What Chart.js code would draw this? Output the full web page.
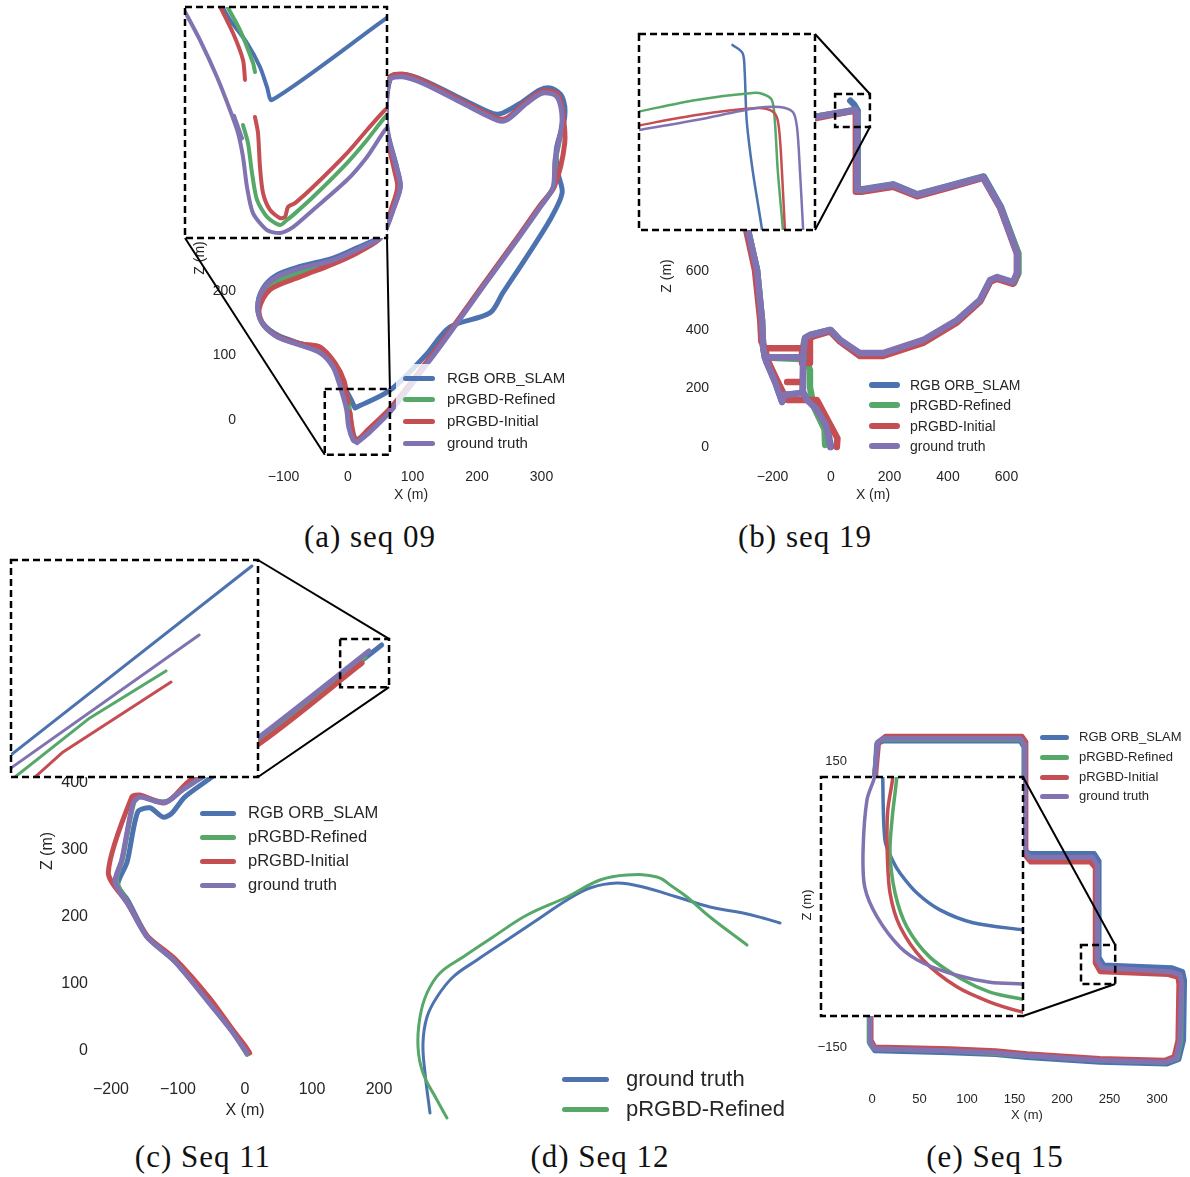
<!DOCTYPE html>
<html><head><meta charset="utf-8">
<script src="https://cdn.jsdelivr.net/npm/chart.js@4.4.1/dist/chart.umd.min.js"></script>
<style>
html,body{margin:0;padding:0;background:#fff;}
body{width:1190px;height:1177px;overflow:hidden;position:relative;font-family:'Liberation Sans',Arial,sans-serif;}
canvas{position:absolute;}
.cap{position:absolute;width:300px;text-align:center;font-family:'Liberation Serif','Times New Roman',serif;font-size:31px;letter-spacing:1px;line-height:36px;color:#111;}
.leg{position:absolute;color:#262626;white-space:nowrap;font-family:'Liberation Sans',Arial,sans-serif;}
</style></head><body>
<script>
// ---------------- DATA ----------------
const seriesLabels = ['RGB ORB_SLAM','pRGBD-Refined','pRGBD-Initial','ground truth'];
const seq12Labels = ['ground truth','pRGBD-Refined'];
const captions = ['(a) seq 09','(b) seq 19','(c) Seq 11','(d) Seq 12','(e) Seq 15'];

// seq 09 tick labels
const a09_xticks = [-100,0,100,200,300];
const a09_yticks = [0,100,200];
// seq 09 main trajectories [X, Z]
const a09_orb = [[10.9,18.6],[65,46],[120,100],[158,144],[220,166],[240,197],[277,253],[313,310],[332,352],[325,385],[323,420],[336,470],[332,501],[316,514],[298,512],[270,493],[240,476],[225,475],[178,497],[116,527],[85,536],[65,531],[60,456],[76,390],[81,362],[70,327],[60,300],[50,284],[14,267],[-23,251],[-74,238],[-110,225],[-132,204],[-140,175],[-132,150],[-108,131],[-72,118],[-41,107],[-21,84],[-8,55],[4,33],[10.9,18.6]];
const a09_refined = [[14,-31],[30,-19],[67,18],[127,95],[158,137],[209,208],[262,281],[298,332],[319,362],[322,404],[333,466],[325,503],[302,509],[277,493],[246,467],[231,467],[178,493],[116,524],[85,534],[65,529],[59,455],[75,389],[79,361],[68,326],[59,299],[49,281],[14,262],[-23,245],[-74,228],[-114,213],[-135,190],[-139,170],[-131,147],[-106,128],[-73,117],[-43,109],[-21,85],[-8,56],[0,30],[4,0],[8,-25],[14,-31]];
const a09_initial = [[3,12],[6,-10],[10,-27],[15,-31],[30,-16],[67,20],[127,97],[158,138],[209,209],[262,282],[298,333],[320,362],[336,429],[333,476],[325,505],[302,510],[277,494],[246,468],[231,468],[178,494],[116,526],[85,536],[65,531],[58,456],[72,388],[77,361],[67,326],[58,299],[48,280],[14,259],[-23,242],[-74,222],[-121,202],[-138,171],[-130,146],[-104,127],[-72,118],[-43,113],[-20,88],[-6,60],[0,26]];
const a09_gt = [[14,-35],[30,-22],[67,15],[127,93],[158,135],[209,206],[262,279],[298,330],[318,361],[321,403],[332,465],[324,501],[302,507],[277,491],[246,465],[231,465],[178,491],[116,522],[85,532],[65,527],[60,454],[76,388],[81,361],[70,326],[60,299],[50,282],[14,264],[-23,248],[-74,235],[-110,222],[-132,202],[-140,175],[-133,150],[-110,129],[-74,116],[-43,104],[-23,82],[-12,52],[-2,16],[1,-10],[8,-31],[14,-35]];
// seq 09 zoomed inset
const a09in_orb = [[-18.5,50],[-13.5,42.3],[-5,32.1],[1.5,21.5],[5,12.7],[7.5,6.9],[63.5,42.3],[68,45.2]];
const a09in_refined = [[-16,50],[-8.5,37.8],[-2,23.3],[-1,19.3],null,[-7,-4.1],[-4.5,-12.1],[-2.5,-25.3],[0,-37.2],[5,-44.7],[11.5,-48.3],[15,-46],[18,-43.9],[28,-35.9],[45,-20.9],[55,-10.7],[64,-0.6],[68,2.5]];
const a09in_initial = [[-19.5,50],[-12,36.5],[-7,24.6],[-6,15.8],null,[-1,-0.6],[0.5,-7.6],[1.5,-22.7],[3,-34.1],[6.5,-41.6],[11.5,-45.2],[14,-44.7],[15.5,-40.3],[19,-38.6],[28,-31.5],[45,-16.5],[55,-6.3],[64,2.5],[68,5]];
const a09in_gt = [[-37,47.6],[-28.5,33.4],[-20,17.1],[-13.5,2.5],[-9.5,-7.6],[-7,-18.2],[-5,-31.5],[-2,-43],[5,-50.5],[11.5,-51.8],[18,-49.2],[28,-41.6],[45,-28.4],[55,-18.2],[64,-6.3],[68,-3],null,[-11.5,0],[-9.5,-5],[-7.5,-10]];

// seq 19
const b19_xticks = [-200,0,200,400,600];
const b19_yticks = [0,200,400,600];
const b19_orb = [[0,0],[-15,75],[-48,130],[-80,161],[-97,190],[-94,304],[-87,373],[-70,383],[-1,400],[33,364],[99,318],[178,318],[317,362],[433,430],[511,500],[546,568],[570,578],[624,561],[640,592],[640,663],[581,821],[522,925],[397,891],[294,864],[212,898],[109,881],[91,881],[91,1142],[84,1150],[-55,1128],[-150,1110],[-250,1060],[-280,950],[-284,742],[-253,605],[-236,434],[-232,342],[-226,308],[-96,306],[-226,306],[-219,287],[-190,220],[-167,154],[-160,178],[-96,185],null,[91,1150],[78,1172],[66,1184]];
const b19_refined = [[-20,7],[-22,60],[-60,140],[-72,205],[-72,263],[-85,300],[-226,306],[-232,342],[-236,434],[-253,605],[-284,742],[-280,950],[-250,1060],[-150,1110],[-55,1128],[82,1152],[89,1142],[89,879],[109,879],[212,896],[294,862],[397,889],[520,923],[578,821],[640,663],[640,595],[626,561],[568,578],[544,568],[509,500],[431,431],[315,363],[178,318],[99,318],[31,363],[-3,398],[-72,381],[-89,371],[-96,340]];
const b19_initial = [[20,0],[22,30],[-48,161],[-150,161],[-160,178],[-190,240],[-218,300],[-225,338],[-99,338],[-99,287],[-72,287],[-72,373],[-55,380],[-3,395],[31,360],[99,311],[178,311],[315,356],[431,426],[509,497],[544,565],[568,575],[622,558],[636,590],[636,660],[578,818],[520,920],[397,885],[294,857],[212,890],[109,873],[85,873],[85,1140],[78,1150],[-55,1124],[-150,1105],[-250,1055],[-285,950],[-290,742],[-260,605],[-242,434],[-238,360],[-225,338],null,[-150,222],[-96,222]];
const b19_gt = [[-3,0],[-17,75],[-50,130],[-82,161],[-99,190],[-96,304],[-89,373],[-72,383],[-3,400],[31,366],[99,321],[178,321],[315,366],[431,434],[509,503],[544,571],[568,581],[622,564],[636,595],[636,663],[578,821],[520,923],[397,889],[294,862],[212,896],[109,879],[89,879],[89,1142],[82,1152],[-55,1128],[-150,1110],[-250,1060],[-280,950],[-284,742],[-253,605],[-236,434],[-232,342],[-226,308],[-96,306],[-226,306],[-219,287],[-190,220],[-167,154],[-160,178],[-96,185]];
const b19in_orb = [[77.2,1200.7],[84,1196],[85.4,1186.2],[86.8,1157.4],[90.8,1128.6],[97,1095.2],[97.5,1090]];
const b19in_refined = [[12,1162],[52.8,1169],[90.8,1173],[97.6,1172.4],[103.8,1169],[105.8,1157.4],[107.8,1128.6],[111.2,1095.2],[111.6,1090]];
const b19in_initial = [[12,1154],[52.8,1160.3],[93.6,1164.3],[102.4,1163.2],[107.2,1159.1],[109.2,1147.6],[110.6,1128.6],[112.6,1095.2],[113,1090]];
const b19in_gt = [[12,1151.3],[52.8,1157.4],[93.6,1164.3],[109.2,1164.9],[118,1162],[120.8,1153.4],[122.8,1128.6],[124.9,1095.2],[125.2,1090]];

// seq 11
const c11_xticks = [-200,-100,0,100,200];
const c11_yticks = [0,100,200,300,400];
const c11_orb = [[3,0],[-20,32],[-55,76],[-104,133],[-145,170],[-175,225],[-190,248],[-176,282],[-160,357],[-142,363],[-122,349],[-109,355],[-90,379],[-52,407],[19,461],[204,606]];
const c11_refined = [[3,-5],[-20,31],[-56,76],[-106,136],[-146,170],[-172,216],[-192,254],[-183,286],[-166,371],[-156,380],[-130,373],[-115,373],[-92,391],[-65,408],[19,464],[179,588]];
const c11_initial = [[7,-3],[0,8],[-20,34],[-52,78],[-104,137],[-146,172],[-175,220],[-204,266],[-169,379],[-157,382],[-122,370],[-107,379],[-82,404],[19,457],[175,579]];
const c11_gt = [[3,-3],[-20,30],[-57,76],[-107,136],[-146,170],[-172,215],[-194,252],[-184,285],[-167,370],[-157,379],[-131,372],[-116,372],[-93,390],[-67,407],[19,467],[185,597]];
const c11in_orb = [[138,546.8],[213.2,613]];
const c11in_refined = [[140,540.5],[143.2,543],[165.3,562.6],[187.8,578.2]];
const c11in_initial = [[147,540],[149.1,543],[157.4,551.3],[189.3,574.5]];
const c11in_gt = [[138,542.8],[197.6,590.1]];

// seq 12
const d12_gt = [[0,0],[-5,40],[-7,70],[-3,96],[7,116],[23,136],[47,153],[77,173],[107,193],[137,213],[160,225],[187,230],[213,226],[247,216],[280,206],[313,200],[333,195],[350,190]];
const d12_refined = [[17,-5],[7,13],[-7,40],[-12,66],[-10,96],[-3,120],[10,140],[33,156],[63,176],[97,198],[137,216],[170,233],[197,238],[227,236],[243,226],[257,216],[280,196],[317,168]];

// seq 15
const e15_xticks = [0,50,100,150,200,250,300];
const e15_yticks = [-150,150];
const e15_orb = [[3,100],[3,137],[5,168],[12,171],[156,171],[160,165],[160,57],[166,53],[234,53],[239,45],[239,-56],[244,-64],[316,-67],[327,-71],[329,-80],[328,-143],[323,-163],[310,-168],[240,-166],[163,-161],[130,-158],[82,-156],[3,-154],[-2,-147],[-2,-110]];
const e15_refined = [[3,100],[3,137],[6,169],[12,173],[156,173],[161,166],[161,52],[166,47],[232,47],[237,40],[237,-60],[242,-69],[314,-72],[324,-75],[326,-83],[325,-143],[321,-162],[309,-166],[240,-164],[163,-159],[130,-157],[82,-154],[3,-152],[-3,-145],[-3,-110]];
const e15_initial = [[4,100],[4,137],[7,170],[14,176],[158,176],[162,170],[162,50],[167,44],[230,44],[235,38],[235,-62],[240,-71],[312,-74],[322,-77],[323,-84],[322,-143],[318,-160],[308,-164],[240,-162],[163,-157],[130,-154],[82,-152],[3,-150],[-1,-143],[-1,-110]];
const e15_gt = [[3,100],[3,137],[6,170],[12,174],[156,174],[161,167],[161,55],[166,49],[232,49],[237,41],[237,-59],[242,-67],[314,-71],[324,-74],[326,-82],[324,-143],[320,-162],[309,-166],[240,-164],[163,-159],[130,-156],[82,-154],[3,-152],[-2,-145],[-2,-110]];
const e15in_orb = [[231,-40],[231,-43],[231.4,-53.8],[232.7,-57.2],[234.1,-59.5],[237.1,-62.9],[241.2,-65.8],[247.1,-68],[255.8,-69.2],[258,-69.4]];
const e15in_refined = [[233.5,-40],[233.5,-43],[232.7,-49.9],[232.3,-56],[233.2,-62.9],[235.3,-68.7],[239.4,-73.9],[245.3,-77.8],[250.1,-79.9],[255.8,-81.1],[258,-81.4]];
const e15in_initial = [[232.8,-40],[232.8,-43],[231.9,-48.7],[231.8,-55.5],[232.3,-62.9],[234.1,-68.7],[238.2,-74.4],[244.2,-79],[250.1,-81.6],[255.8,-83.3],[258,-83.6]];
const e15in_gt = [[229.6,-40],[229.6,-42.8],[228.2,-46.9],[227.5,-55.5],[227.8,-61.9],[230,-67],[234.1,-72.2],[238.2,-74.9],[244.2,-77],[250.1,-78.2],[255.8,-78.5],[258,-78.6]];

// zoom regions [xmin, xmax, zmin, zmax]
const a09_zoom = [-36,65,-54,48];
const b19_zoom = [14,133,1094,1207];
const c11_zoom = [142,215,543,615];
const e15_zoom = [220,256,-84,-43];

// ---------------- RENDERING ----------------
const C = {orb:'#4C72B0', refined:'#55A868', initial:'#C44E52', gt:'#8172B2'};
const TXT = '#262626';
Chart.defaults.font.family = "'Liberation Sans', Arial, sans-serif";

function addCanvas(l,t,w,h,z){
  const c=document.createElement('canvas');
  c.width=w;c.height=h;c.style.left=l+'px';c.style.top=t+'px';c.style.width=w+'px';c.style.height=h+'px';c.style.zIndex=z;
  document.body.appendChild(c);return c;
}
function ds(label,arr,color,lw,tension,clip){
  return {label,data:arr.map(p=>p?{x:p[0],y:p[1]}:{x:null,y:null}),showLine:true,borderColor:color,backgroundColor:color,
    borderWidth:lw,pointRadius:0,pointHoverRadius:0,tension:tension,borderCapStyle:'round',borderJoinStyle:'round',
    spanGaps:false,clip:clip};
}
function four(orb,ref,ini,gt,lw,tension,clip){
  // ground truth on top, then initial, refined, ORB at bottom
  return [ds(seriesLabels[3],gt,C.gt,lw,tension,clip),ds(seriesLabels[2],ini,C.initial,lw,tension,clip),
          ds(seriesLabels[1],ref,C.refined,lw,tension,clip),ds(seriesLabels[0],orb,C.orb,lw,tension,clip)];
}
const fmt=v=>String(v).replace('-','\u2212');
function mainChart(p){
  const cl=p.area.l-p.yw, ct=p.area.t-p.padTop;
  const cw=p.area.r+p.padRight-cl, ch=p.area.b+p.xh-ct;
  const cv=addCanvas(cl,ct,cw,ch,1);
  const ch_=new Chart(cv,{type:'scatter',data:{datasets:p.datasets},options:{
    responsive:false,animation:false,devicePixelRatio:1,events:[],
    layout:{padding:{left:0,top:p.padTop,right:p.padRight,bottom:0}},
    plugins:{legend:{display:false},tooltip:{enabled:false}},
    scales:{
      x:{type:'linear',bounds:'data',min:(p.area.l-p.x0)/p.kx,max:(p.area.r-p.x0)/p.kx,
        afterFit(s){s.height=p.xh;s.paddingLeft=0;s.paddingRight=0;},
        afterBuildTicks(s){s.ticks=p.xticks.map(v=>({value:v}));},
        grid:{display:false,drawTicks:false},border:{display:false},
        ticks:{padding:p.xTickPad,autoSkip:false,maxRotation:0,color:TXT,font:{size:p.font},callback:fmt},
        title:{display:true,text:'X (m)',color:TXT,font:{size:p.font},padding:{top:0,bottom:p.xTitlePad}}},
      y:{type:'linear',bounds:'data',min:(p.y0-p.area.b)/p.ky,max:(p.y0-p.area.t)/p.ky,
        afterFit(s){s.width=p.yw;s.paddingTop=0;s.paddingBottom=0;},
        afterBuildTicks(s){s.ticks=p.yticks.map(v=>({value:v}));},
        grid:{display:false,drawTicks:false},border:{display:false},
        ticks:{padding:p.yTickPad,autoSkip:false,color:TXT,font:{size:p.font},callback:fmt},
        title:{display:true,text:'Z (m)',color:TXT,font:{size:p.font},padding:{top:p.yTitlePad,bottom:0}}}
    }}});
  ch_._cl=cl; ch_._ct=ct; return ch_;
}
function insetChart(r,zoom,datasets){
  const cv=addCanvas(r[0],r[1],r[2],r[3],2);
  cv.style.background='#fff';
  return new Chart(cv,{type:'scatter',data:{datasets},options:{
    responsive:false,animation:false,devicePixelRatio:1,events:[],
    layout:{padding:0},plugins:{legend:{display:false},tooltip:{enabled:false}},
    scales:{x:{type:'linear',display:false,bounds:'data',min:zoom[0],max:zoom[1]},
            y:{type:'linear',display:false,bounds:'data',min:zoom[2],max:zoom[3]}}}});
}

// Panel (a)
const chA=mainChart({area:{l:250,t:58,r:572,b:458},yw:70,xh:52,padTop:6,padRight:8,x0:348,y0:420,kx:0.645,ky:0.645,
  xticks:a09_xticks,yticks:a09_yticks,font:14,yTitlePad:11.6,yTickPad:14,xTickPad:10.6,xTitlePad:6.6,
  datasets:four(a09_orb,a09_refined,a09_initial,a09_gt,5,0.3,false)});
const inA=[185,7,202,231];
insetChart(inA,a09_zoom,four(a09in_orb,a09in_refined,a09in_initial,a09in_gt,4,0.25,undefined));

// Panel (b)
const chB=mainChart({area:{l:722,t:97,r:1024,b:455},yw:82,xh:55,padTop:20,padRight:10,x0:831,y0:447,kx:0.2925,ky:0.2925,
  xticks:b19_xticks,yticks:b19_yticks,font:14,yTitlePad:18.6,yTickPad:13,xTickPad:13.6,xTitlePad:6.6,
  datasets:four(b19_orb,b19_refined,b19_initial,b19_gt,6.5,0,false)});
const inB=[639,34,176,196];
insetChart(inB,b19_zoom,four(b19in_orb,b19in_refined,b19in_initial,b19in_gt,2.5,0.3,undefined));

// Panel (c)
const chC=mainChart({area:{l:100,t:640,r:390,b:1062},yw:80,xh:63,padTop:10,padRight:15,x0:245,y0:1051,kx:0.67,ky:0.67,
  xticks:c11_xticks,yticks:c11_yticks,font:16,yTitlePad:18.4,yTickPad:12,xTickPad:18.4,xTitlePad:4.4,
  datasets:four(c11_orb,c11_refined,c11_initial,c11_gt,5,0.25,false)});
const inC=[11,560,247,217];
insetChart(inC,c11_zoom,four(c11in_orb,c11in_refined,c11in_initial,c11in_gt,3,0,undefined));

// Panel (d)
const cvD=addCanvas(410,860,390,270,1);
new Chart(cvD,{type:'scatter',data:{datasets:[ds(seq12Labels[1],d12_refined,C.refined,3,0.4,false),ds(seq12Labels[0],d12_gt,C.orb,3,0.4,false)]},
  options:{responsive:false,animation:false,devicePixelRatio:1,events:[],layout:{padding:0},
    plugins:{legend:{display:false},tooltip:{enabled:false}},
    scales:{x:{type:'linear',display:false,bounds:'data',min:-20,max:370},y:{type:'linear',display:false,bounds:'data',min:-17,max:253}}}});

// Panel (e)
const chE=mainChart({area:{l:858,t:735,r:1196,b:1075},yw:68,xh:55,padTop:10,padRight:10,x0:872,y0:904,kx:0.95,ky:0.953,
  xticks:e15_xticks,yticks:e15_yticks,font:13,yTitlePad:9.2,yTickPad:11,xTickPad:16.2,xTitlePad:7.2,
  datasets:four(e15_orb,e15_refined,e15_initial,e15_gt,5,0,false)});
const inE=[821,777,202,239];
insetChart(inE,e15_zoom,four(e15in_orb,e15in_refined,e15in_initial,e15in_gt,3.5,0.3,undefined));

// Overlay: zoom boxes, connectors, inset frames
const ov=addCanvas(0,0,1190,1177,5);
const g=ov.getContext('2d');
function boxPx(ch,z){
  const sx=ch.scales.x, sy=ch.scales.y;
  return {l:ch._cl+sx.getPixelForValue(z[0]),r:ch._cl+sx.getPixelForValue(z[1]),
          b:ch._ct+sy.getPixelForValue(z[2]),t:ch._ct+sy.getPixelForValue(z[3])};
}
function dashedRect(l,t,w,h){g.save();g.setLineDash([7,4]);g.lineWidth=2.5;g.strokeStyle='#000';g.strokeRect(l,t,w,h);g.restore();}
function line(x1,y1,x2,y2){g.save();g.lineWidth=2;g.strokeStyle='#000';g.beginPath();g.moveTo(x1,y1);g.lineTo(x2,y2);g.stroke();g.restore();}
function zoomDeco(ch,z,r,links){
  const b=boxPx(ch,z);
  const ic={tl:[r[0],r[1]],tr:[r[0]+r[2],r[1]],bl:[r[0],r[1]+r[3]],br:[r[0]+r[2],r[1]+r[3]]};
  const bc={tl:[b.l,b.t],tr:[b.r,b.t],bl:[b.l,b.b],br:[b.r,b.b]};
  links.forEach(([a,c])=>line(ic[a][0],ic[a][1],bc[c][0],bc[c][1]));
  dashedRect(b.l,b.t,b.r-b.l,b.b-b.t);
  dashedRect(r[0],r[1],r[2],r[3]);
}
zoomDeco(chA,a09_zoom,inA,[['bl','bl'],['br','tr']]);
zoomDeco(chB,b19_zoom,inB,[['tr','tr'],['br','br']]);
zoomDeco(chC,c11_zoom,inC,[['tr','tr'],['br','br']]);
zoomDeco(chE,e15_zoom,inE,[['tr','tr'],['br','br']]);

// Legends (HTML text)
function legend(o){
  if(o.bg){const d=document.createElement('div');d.style.cssText=`position:absolute;left:${o.bg[0]}px;top:${o.bg[1]}px;width:${o.bg[2]}px;height:${o.bg[3]}px;background:rgba(255,255,255,0.8);z-index:6`;document.body.appendChild(d);}
  o.labels.forEach((lab,i)=>{
    const y=o.ys[i];
    const s=document.createElement('div');
    s.style.cssText=`position:absolute;left:${o.x1}px;top:${y-o.lw/2}px;width:${o.x2-o.x1}px;height:${o.lw}px;border-radius:${o.lw/2}px;background:${o.colors[i]};z-index:7`;
    document.body.appendChild(s);
    const t=document.createElement('div');t.className='leg';
    t.style.cssText+=`left:${o.tx}px;top:${y-o.fs*0.6}px;font-size:${o.fs}px;line-height:${o.fs*1.2}px;z-index:7`;
    t.textContent=lab;document.body.appendChild(t);
  });
}
const cols4=[C.orb,C.refined,C.initial,C.gt];
legend({x1:403,x2:435,tx:447,ys:[378,399,421,443],fs:15,lw:5,labels:seriesLabels,colors:cols4,bg:[396,364,176,91]});
legend({x1:869,x2:900,tx:910,ys:[385,405,426,446],fs:14,lw:6,labels:seriesLabels,colors:cols4});
legend({x1:200,x2:236,tx:248,ys:[813,837,861,885],fs:16.5,lw:5,labels:seriesLabels,colors:cols4});
legend({x1:562,x2:609,tx:626,ys:[1079,1109],fs:22,lw:5,labels:seq12Labels,colors:[C.orb,C.refined]});
legend({x1:1040,x2:1069,tx:1079,ys:[737,757,777,796],fs:13,lw:5,labels:seriesLabels,colors:cols4});

// Captions
[[370,537],[805,537],[203,1157],[600,1157],[995,1157]].forEach((p,i)=>{
  const d=document.createElement('div');d.className='cap';d.style.left=(p[0]-150)+'px';d.style.top=(p[1]-18)+'px';
  d.textContent=captions[i];document.body.appendChild(d);
});
</script></body></html>
